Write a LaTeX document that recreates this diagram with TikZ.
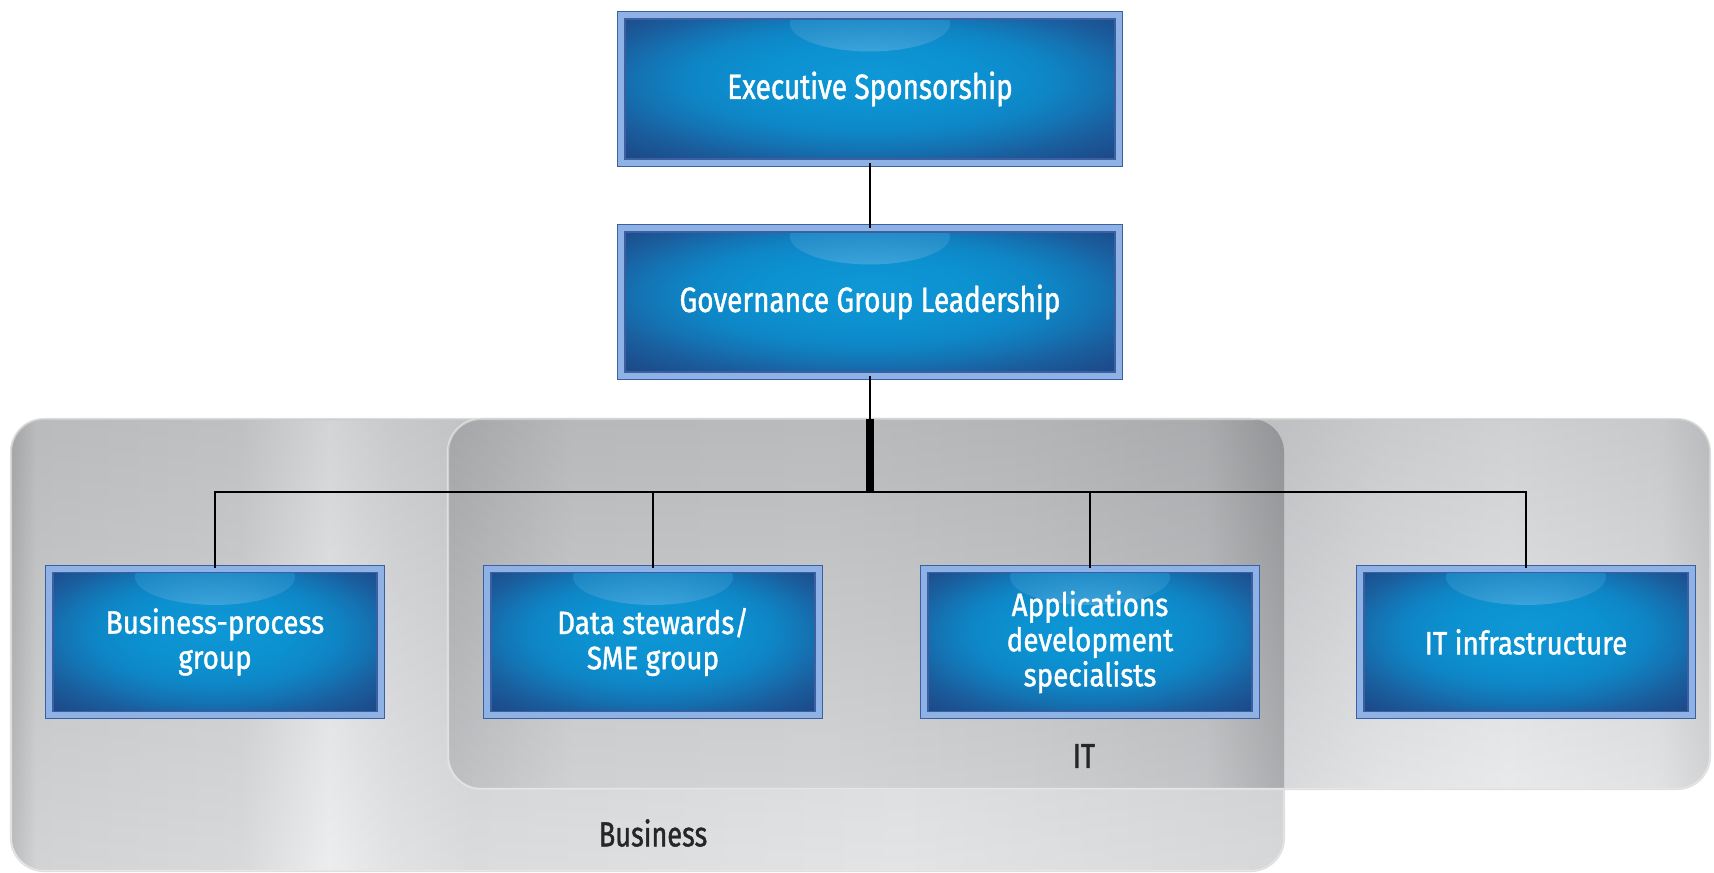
\documentclass[tikz,border=0pt]{standalone}
\usepackage{fontspec}
\setmainfont{Fira Sans}[FakeStretch=0.78, FakeBold=1.2]
\newfontfamily\leadfont{Fira Sans}[FakeStretch=0.795, FakeBold=1.2]
\newfontfamily\unitfont{Fira Sans}[FakeStretch=0.86, FakeBold=1.2]
\usepackage{tikz}

\definecolor{boxrim}{HTML}{8EB2E6}
\definecolor{boxline}{HTML}{3C5FA0}
\definecolor{boxshine}{HTML}{4FB6E8}
\definecolor{gA}{HTML}{0E97D6}
\definecolor{gB}{HTML}{0C90D0}
\definecolor{gC}{HTML}{0E86C6}
\definecolor{gD}{HTML}{1474B4}
\definecolor{gE}{HTML}{1A5E9E}
\definecolor{gF}{HTML}{1C4B8A}
\definecolor{gG}{HTML}{1D3E7B}
\definecolor{bA}{HTML}{A8AAAD}
\definecolor{bB}{HTML}{C6C8CA}
\definecolor{bC}{HTML}{CDCFD1}
\definecolor{bD}{HTML}{E8E9EA}
\definecolor{bE}{HTML}{DADBDD}
\definecolor{bF}{HTML}{D0D2D4}
\definecolor{bG}{HTML}{DCDDDF}
\definecolor{bH}{HTML}{CBCDCF}
\definecolor{iA}{HTML}{CFD1D3}
\definecolor{iB}{HTML}{CDCFD2}
\definecolor{iC}{HTML}{DADCDE}
\definecolor{iD}{HTML}{E3E4E6}
\definecolor{iE}{HTML}{D8DADC}
\definecolor{iF}{HTML}{C5C7CA}
\definecolor{oA}{HTML}{ABADB0}
\definecolor{oB}{HTML}{C3C5C7}
\definecolor{oC}{HTML}{C6C8CA}
\definecolor{oD}{HTML}{BEC0C2}
\definecolor{oE}{HTML}{B2B4B7}
\definecolor{oF}{HTML}{95979A}
\pgfdeclareradialshading{boxglow}{\pgfpoint{0bp}{5bp}}{color(0bp)=(gA); color(12bp)=(gB); color(18bp)=(gC); color(23bp)=(gD); color(28bp)=(gE); color(34bp)=(gF); color(42bp)=(gG); color(50bp)=(gG)}
\pgfdeclarehorizontalshading{bizmetal}{100bp}{color(0bp)=(bA); color(25bp)=(bA); color(26bp)=(bB); color(34bp)=(bC); color(37.5bp)=(bD); color(40bp)=(bE); color(43bp)=(bF); color(60bp)=(bG); color(75bp)=(bH); color(100bp)=(bH)}
\pgfdeclarehorizontalshading{itmetal}{100bp}{color(0bp)=(iA); color(25bp)=(iA); color(58bp)=(iB); color(62bp)=(iC); color(67bp)=(iD); color(73bp)=(iE); color(75bp)=(iF); color(100bp)=(iF)}
\pgfdeclarehorizontalshading{bothmetal}{100bp}{color(0bp)=(oA); color(25bp)=(oA); color(30bp)=(oB); color(40bp)=(oC); color(48bp)=(oD); color(55bp)=(oE); color(58bp)=(oF); color(100bp)=(oF)}

\begin{document}
\begin{tikzpicture}[x=0.01cm, y=-0.01cm, semithick,
	unit/.style={draw=boxline, double=boxrim, double distance=1.7pt, line width=0.35pt,
		shade, shading=boxglow, text=white, align=center,
		minimum width=3.31cm, minimum height=1.46cm, font=\unitfont\fontsize{9.2}{10}\selectfont,
		path picture={\shade[inner color=boxshine, outer color=gD!55!gC]
			([yshift=-0.08cm]path picture bounding box.north) ellipse (0.8cm and 0.28cm);}},
	lead/.style={unit, minimum width=4.97cm, minimum height=1.47cm, font=\leadfont\fontsize{10}{12}\selectfont},
	tag/.style={text=black!85, font=\fontsize{9.9}{12}\selectfont},
	area/.style={rounded corners=0.33cm, draw=white!75!gray, line width=0.6pt},
	dim/.style={rounded corners=0.33cm, top color=black!45, bottom color=white, fill opacity=0.22}]
	\useasboundingbox (0,0) rectangle (1714,873);

	\shade[area, shading=bizmetal] (11,419) rectangle (1284,871);
	\shade[dim] (11,419) rectangle (1284,871);
	\shade[area, shading=itmetal] (448,419) rectangle (1710,789);
	\shade[dim] (448,419) rectangle (1710,789);
	\begin{scope}
		\clip[rounded corners=0.33cm] (11,419) rectangle (1284,871);
		\shade[area, shading=bothmetal] (448,419) rectangle (1710,789);
		\shade[dim] (448,419) rectangle (1710,789);
	\end{scope}

	\node[lead] (1) at (870,89)  {Executive Sponsorship};
	\node[lead] (2) at (870,302) {Governance Group Leadership};
	\node[unit] (3) at (215,642)  {Business-process\\group};
	\node[unit] (4) at (653,642)  {Data stewards/\\SME group};
	\node[unit] (5) at (1090,642) {Applications\\development\\specialists};
	\node[unit] (6) at (1526,642) {IT infrastructure};
	\node[tag] (7) at (653,833)  {Business};
	\node[tag] (8) at (1084,756) {IT};
	\coordinate (top) at (870,419);
	\coordinate (hub) at (870,492);

	\draw[-, line width=0.8pt]
		(1) edge (2)
		(2) edge (top);
	\draw[-, line width=2.2pt] (top) -- (hub);
	\draw[-, line width=0.6pt] (3) |- (hub) -| (6);
	\draw[-, line width=0.6pt] (4) -- (4 |- hub);
	\draw[-, line width=0.6pt] (5) -- (5 |- hub);
\end{tikzpicture}
\end{document}
